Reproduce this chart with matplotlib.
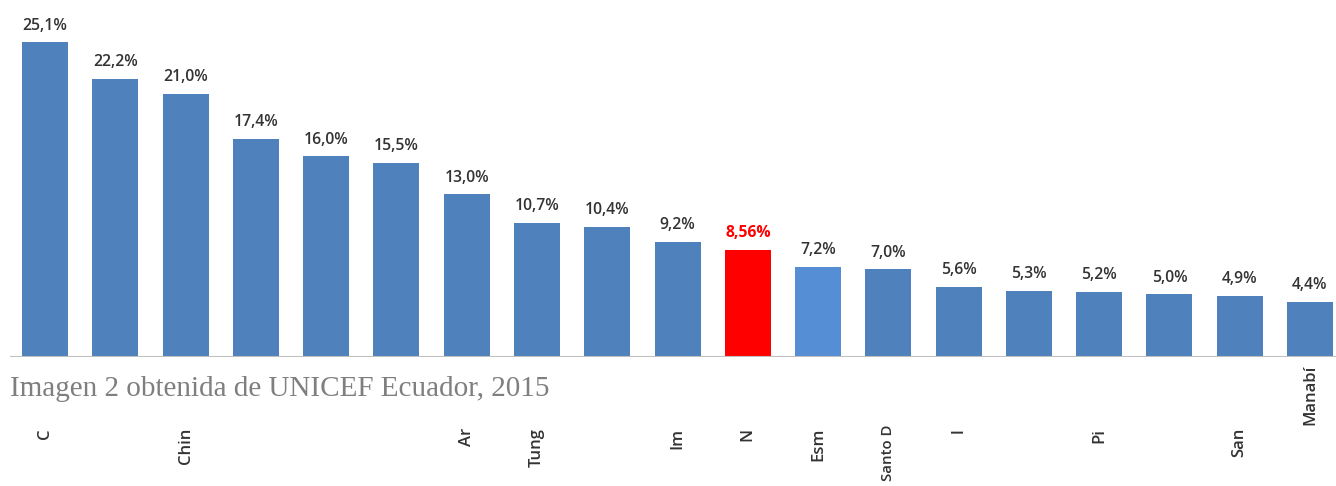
import matplotlib
matplotlib.use("Agg")
import matplotlib.pyplot as plt
from matplotlib.transforms import blended_transform_factory

values = [25.1, 22.2, 21.0, 17.4, 16.0, 15.5, 13.0, 10.7, 10.4, 9.2, 8.56,
          7.2, 7.0, 5.6, 5.3, 5.2, 5.0, 4.9, 4.4]
value_labels = ["25,1%", "22,2%", "21,0%", "17,4%", "16,0%", "15,5%", "13,0%",
                "10,7%", "10,4%", "9,2%", "8,56%", "7,2%", "7,0%", "5,6%",
                "5,3%", "5,2%", "5,0%", "4,9%", "4,4%"]
# visible (partially cropped) category labels: (bar index, text)
cat_labels = [(0, "C"), (2, "Chin"), (6, "Ar"), (7, "Tung"), (9, "Im"),
              (10, "N"), (11, "Esm"), (12, "Santo D"), (13, "l"), (15, "Pi"),
              (17, "San"), (18, "Manabí")]
highlight_red = 10
highlight_light = 11

W, H = 1336, 486
fig = plt.figure(figsize=(W / 100, H / 100), dpi=100)
ax = fig.add_axes([10 / W, 129 / H, 1 - 10 / W, 351 / H])
ax.set_xlim(-0.5, 18.37)
ax.set_ylim(0, 28)

colors = []
for i in range(len(values)):
    if i == highlight_red:
        colors.append("#FF0000")
    elif i == highlight_light:
        colors.append("#558ED5")
    else:
        colors.append("#4F81BD")

x = list(range(len(values)))
ax.bar(x, values, width=0.655, color=colors, zorder=2)

for i, (v, lab) in enumerate(zip(values, value_labels)):
    red = i == highlight_red
    ax.annotate(lab, (i, v), xytext=(0, 9), textcoords="offset points",
                ha="center", va="baseline", fontsize=11.3,
                fontfamily="Open Sans", fontweight="bold" if red else "semibold",
                color="#FF0000" if red else "#333333")

ax.axhline(0, color="#BFBFBF", lw=1.5, zorder=3)
for s in ax.spines.values():
    s.set_visible(False)
ax.set_xticks([])
ax.set_yticks([])

trans = blended_transform_factory(ax.transData, fig.transFigure)
for idx, txt in cat_labels:
    ytop = 365 if txt == "Manabí" else (425 if txt == "Santo D" else 428)
    fs = 10.8 if txt == "Santo D" else 12
    ax.text(idx, 1 - ytop / H, txt, transform=trans, rotation=90,
            ha="center", va="top", fontsize=fs, fontfamily="Open Sans",
            fontweight="semibold", color="#333333")

fig.text(10 / W, 1 - 396 / H, "Imagen 2 obtenida de UNICEF Ecuador, 2015",
         ha="left", va="baseline", fontsize=21,
         fontfamily="Liberation Serif", color="#7F7F7F")

fig.savefig("out.png", dpi=100)
